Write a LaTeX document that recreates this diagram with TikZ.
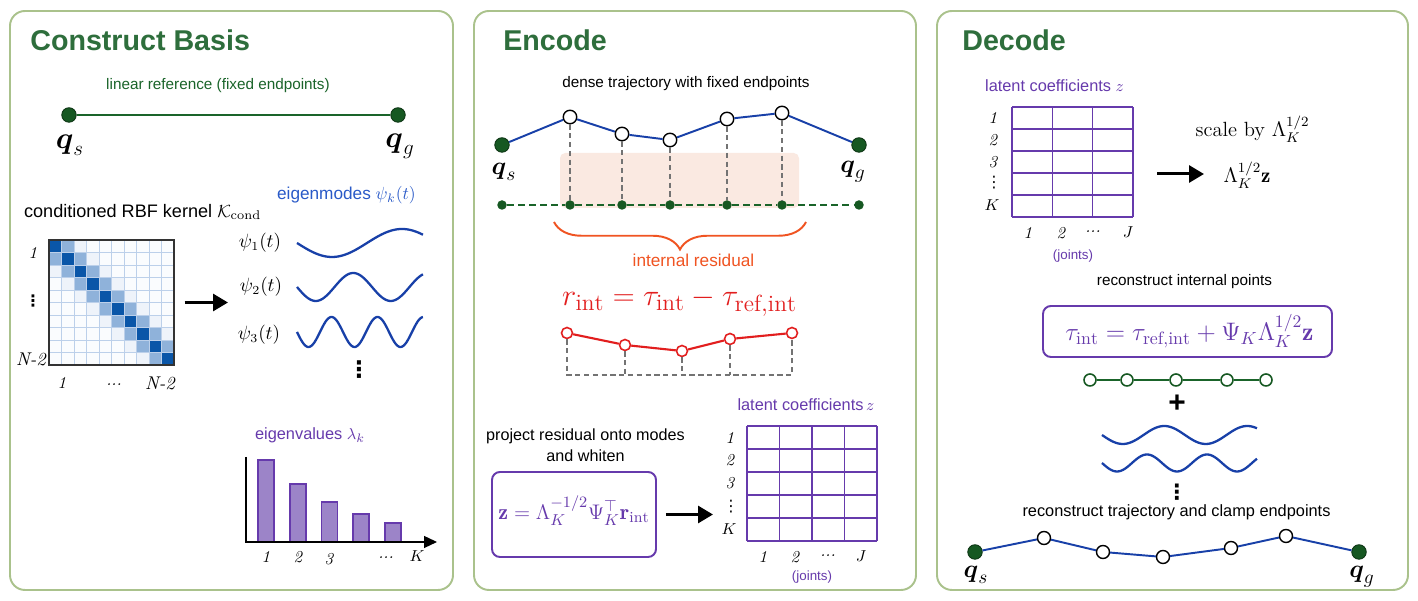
\documentclass[tikz,border=0pt]{standalone}
\usepackage{fontspec}
\usepackage{amsmath}
\setsansfont{Liberation Sans}
\newfontfamily\dotsfont{DejaVu Sans}
\usetikzlibrary{arrows.meta,decorations.pathreplacing}

\definecolor{panelframe}{RGB}{170,194,140}
\definecolor{titlegreen}{RGB}{46,110,60}
\definecolor{dotgreen}{RGB}{22,88,34}
\definecolor{refgreen}{RGB}{26,100,42}
\definecolor{trajblue}{RGB}{24,64,168}
\definecolor{modeblue}{RGB}{42,90,200}
\definecolor{latentpurple}{RGB}{102,58,172}
\definecolor{barpurple}{RGB}{156,132,200}
\definecolor{residred}{RGB}{226,30,30}
\definecolor{braceorange}{RGB}{240,84,34}
\definecolor{shadepeach}{RGB}{250,233,225}
\definecolor{kerneldark}{RGB}{10,86,168}
\definecolor{kernelmid}{RGB}{143,178,218}
\definecolor{kernellight}{RGB}{238,243,250}
\definecolor{kernelpale}{RGB}{250,252,254}
\definecolor{kernelgrid}{RGB}{188,208,234}

\begin{document}
\begin{tikzpicture}[
    panel/.style={draw=panelframe, line width=1.1pt, rounded corners=8.5pt, fill=white},
    panel title/.style={anchor=west, inner sep=0pt, text=titlegreen,
        font=\sffamily\bfseries\fontsize{16.3}{19}\selectfont},
    caption/.style={inner sep=1pt, font=\sffamily\fontsize{8.7}{10.5}\selectfont},
    end dot/.style={circle, fill=dotgreen, draw=dotgreen!60!black, minimum size=2.9mm,
        inner sep=0pt, line width=0.5pt},
    via point/.style={circle, fill=white, draw=black, minimum size=2.7mm, inner sep=0pt,
        line width=0.8pt},
    rail dot/.style={circle, fill=dotgreen, minimum size=1.9mm, inner sep=0pt},
    resid point/.style={circle, fill=white, draw=residred, minimum size=2.2mm, inner sep=0pt,
        line width=0.9pt},
    hollow point/.style={circle, fill=white, draw=dotgreen, minimum size=2.4mm, inner sep=0pt,
        line width=0.9pt},
    end label/.style={inner sep=1pt, font=\fontsize{15}{17}\selectfont},
    axis label/.style={inner sep=1pt, font=\itshape\fontsize{9.5}{11}\selectfont},
    row dots/.style={inner sep=0pt, font=\dotsfont\fontsize{9}{10}\selectfont},
    more dots/.style={inner sep=0pt, font=\dotsfont\bfseries\fontsize{13}{14}\selectfont},
    trajectory/.style={draw=trajblue, line width=1.1pt},
    guide/.style={draw=black!55, dash pattern=on 3pt off 2pt, line width=0.6pt},
    big arrow/.style={-{Triangle[length=3mm, width=3.4mm]}, line width=1.7pt},
    wave/.style={draw=trajblue, line width=1.3pt},
    latent line/.style={draw=latentpurple, line width=0.9pt},
    formula box/.style={draw=latentpurple, line width=1.1pt, rounded corners=4.5pt}
]
    \useasboundingbox (0,0) rectangle (28.36,12.02);

    % The three panels.
    \draw[panel] (0.20,0.22) rectangle (9.06,11.80);
    \draw[panel] (9.48,0.22) rectangle (18.32,11.80);
    \draw[panel] (18.74,0.22) rectangle (28.16,11.80);
    \node[panel title] (basistitle) at (0.60,11.22) {Construct Basis};
    \node[panel title] (encodetitle) at (10.06,11.22) {Encode};
    \node[panel title] (decodetitle) at (19.24,11.22) {Decode};

    % Construct basis: the linear reference.
    \node[caption, text=refgreen] (linref) at (4.36,10.30) {linear reference (fixed endpoints)};
    \node[end dot] (qsA) at (1.38,9.72) {};
    \node[end dot] (qgA) at (7.96,9.72) {};
    \draw[draw=refgreen, line width=1.5pt] (qsA) -- (qgA);
    \node[end label, font=\fontsize{17}{19}\selectfont] (qsAlab) at (1.40,9.12)
        {$\boldsymbol{q}_s$};
    \node[end label, font=\fontsize{17}{19}\selectfont] (qgAlab) at (8.00,9.10)
        {$\boldsymbol{q}_g$};

    % The conditioned kernel.
    \node[caption, anchor=west, font=\sffamily\fontsize{10.3}{12}\selectfont] (kernelcap)
        at (0.44,7.78) {conditioned RBF kernel $\mathcal{K}_{\mathrm{cond}}$};
    \foreach \i in {0,...,9} {
        \foreach \j in {0,...,9} {
            \pgfmathtruncatemacro{\gap}{abs(\i-\j)}
            \ifcase\gap \def\cellcol{kerneldark}\or \def\cellcol{kernelmid}\or
                \def\cellcol{kernellight}\else \def\cellcol{kernelpale}\fi
            \filldraw[fill=\cellcol, draw=kernelgrid, line width=0.5pt]
                (0.98+0.25*\j,7.22-0.25*\i) rectangle ++(0.25,-0.25);
        }
    }
    \node[draw=black!80, line width=0.7pt, minimum size=2.5cm, inner sep=0pt] (kernel)
        at (2.23,5.97) {};
    \node[axis label] (krow1) at (0.66,6.96) {1};
    \node[row dots, font=\dotsfont\bfseries\fontsize{9}{10}\selectfont] (krowdots)
        at (0.66,6.00) {⋮};
    \node[axis label, anchor=east, font=\itshape\fontsize{10.5}{12}\selectfont] (krowN)
        at (0.96,4.84) {N-2};
    \node[axis label] (kcol1) at (1.24,4.36) {1};
    \node[axis label] (kcoldots) at (2.28,4.32) {...};
    \node[axis label, font=\itshape\fontsize{10.5}{12}\selectfont] (kcolN) at (3.20,4.36) {N-2};

    % Eigenmodes.
    \coordinate (modein) at (4.56,5.97);
    \draw[big arrow] ([xshift=2mm]kernel.east) -- (modein);
    \node[caption, anchor=west, text=modeblue, font=\sffamily\fontsize{9.8}{12}\selectfont]
        (modecap) at (5.50,8.12) {eigenmodes $\psi_k(t)$};
    \node[inner sep=1pt, font=\fontsize{10.5}{12}\selectfont] (psi1) at (5.20,7.16) {$\psi_1(t)$};
    \node[inner sep=1pt, font=\fontsize{10.5}{12}\selectfont] (psi2) at (5.22,6.28) {$\psi_2(t)$};
    \node[inner sep=1pt, font=\fontsize{10.5}{12}\selectfont] (psi3) at (5.18,5.32) {$\psi_3(t)$};
    \draw[wave] plot[domain=0:2.52, samples=90, smooth] ({5.94+\x},{7.16-0.28*sin(360*\x/2.8)});
    \draw[wave] plot[domain=0:2.52, samples=90, smooth] ({5.94+\x},{6.28-0.28*sin(360*\x/1.5)});
    \draw[wave] plot[domain=0:2.52, samples=120, smooth] ({5.94+\x},{5.38-0.30*sin(360*\x/0.92)});
    \node[more dots] (modedots) at (7.18,4.62) {⋮};

    % Eigenvalue spectrum.
    \node[caption, anchor=west, text=latentpurple, font=\sffamily\fontsize{9.3}{11}\selectfont]
        (eigcap) at (5.06,3.32) {eigenvalues $\lambda_k$};
    \foreach \x/\h in {5.32/2.82, 5.96/2.34, 6.59/1.98, 7.22/1.74, 7.86/1.56}
        \filldraw[fill=barpurple, draw=latentpurple, line width=0.6pt]
            (\x-0.16,1.18) rectangle (\x+0.16,\h);
    \coordinate (axistop) at (4.92,2.88);
    \coordinate (axisend) at (8.74,1.18);
    \draw[line width=0.7pt, -{Triangle[length=2.6mm, width=2.4mm]}] (axistop) |- (axisend);
    \node[axis label] (bar1) at (5.32,0.88) {1};
    \node[axis label] (bar2) at (5.96,0.88) {2};
    \node[axis label] (bar3) at (6.58,0.84) {3};
    \node[axis label] (bardots) at (7.72,0.86) {...};
    \node[axis label] (barK) at (8.34,0.90) {$K$};

    % Encode: dense trajectory and its residual.
    \fill[shadepeach, rounded corners=3pt] (11.20,7.86) rectangle (15.98,8.96);
    \node[caption] (densecap) at (13.72,10.34) {dense trajectory with fixed endpoints};
    \node[end dot] (qsB) at (10.04,9.12) {};
    \node[via point] (e1) at (11.40,9.68) {};
    \node[via point] (e2) at (12.44,9.34) {};
    \node[via point] (e3) at (13.40,9.22) {};
    \node[via point] (e4) at (14.54,9.64) {};
    \node[via point] (e5) at (15.64,9.76) {};
    \node[end dot] (qgB) at (17.18,9.12) {};
    \draw[trajectory] (qsB) -- (e1) -- (e2) -- (e3) -- (e4) -- (e5) -- (qgB);
    \node[end label] (qsBlab) at (10.08,8.58) {$\boldsymbol{q}_s$};
    \node[end label] (qgBlab) at (17.06,8.58) {$\boldsymbol{q}_g$};

    \node[rail dot] (g0) at (10.04,7.92) {};
    \node[rail dot] (g1) at (11.40,7.92) {};
    \node[rail dot] (g2) at (12.44,7.92) {};
    \node[rail dot] (g3) at (13.40,7.92) {};
    \node[rail dot] (g4) at (14.54,7.92) {};
    \node[rail dot] (g5) at (15.64,7.92) {};
    \node[rail dot] (g6) at (17.18,7.92) {};
    \draw[draw=refgreen, line width=0.9pt, dash pattern=on 4pt off 2.3pt]
        (g0) -- (g1) -- (g2) -- (g3) -- (g4) -- (g5) -- (g6);
    \foreach \k in {1,...,5}
        \draw[guide] (e\k) -- (g\k);

    \coordinate (braceright) at (16.12,7.58);
    \coordinate (braceleft) at (11.08,7.58);
    \draw[draw=braceorange, line width=1.1pt, decorate, decoration={brace, amplitude=0.55cm}]
        (braceright) -- (braceleft);
    \node[caption, text=braceorange, font=\sffamily\fontsize{9.8}{12}\selectfont]
        (residcap) at (13.87,6.82) {internal residual};
    \node[inner sep=1pt, text=residred, font=\fontsize{19}{22}\selectfont] (residrule)
        at (13.59,5.98) {$r_{\mathrm{int}} = \tau_{\mathrm{int}} - \tau_{\mathrm{ref,int}}$};

    \node[resid point] (r1) at (11.34,5.36) {};
    \node[resid point] (r2) at (12.50,5.12) {};
    \node[resid point] (r3) at (13.64,5.00) {};
    \node[resid point] (r4) at (14.60,5.24) {};
    \node[resid point] (r5) at (15.84,5.36) {};
    \draw[draw=residred, line width=1.2pt] (r1) -- (r2) -- (r3) -- (r4) -- (r5);
    \coordinate (b1) at (11.34,4.52);
    \coordinate (b2) at (12.50,4.52);
    \coordinate (b3) at (13.64,4.52);
    \coordinate (b4) at (14.60,4.52);
    \coordinate (b5) at (15.84,4.52);
    \draw[guide] (r1) -- (b1) -- (b5) -- (r5);
    \foreach \k in {2,3,4}
        \draw[guide] (r\k) -- (b\k);

    % Encode: projection onto the modes.
    \node[caption, align=center, font=\sffamily\fontsize{9.2}{12.2}\selectfont] (projcap)
        at (11.71,3.11) {project residual onto modes\\and whiten};
    \node[formula box, minimum width=3.28cm, minimum height=1.70cm, inner sep=0pt] (projbox)
        at (11.48,1.73) {};
    \node[inner sep=0pt, text=latentpurple, font=\fontsize{12.5}{15}\selectfont] (projrule)
        at (11.48,1.80) {$\mathbf{z} = \Lambda_K^{-1/2}\Psi_K^{\top}\mathbf{r}_{\mathrm{int}}$};
    \coordinate (latentin) at (14.26,1.73);
    \draw[big arrow] ([xshift=1.8mm]projbox.east) -- (latentin);

    \node[caption, text=latentpurple, font=\sffamily\fontsize{9.3}{11}\selectfont] (latentcapB)
        at (16.12,3.92) {latent coefficients\,$z$};
    \foreach \c in {0,...,4}
        \draw[latent line] (14.94+0.65*\c,1.20) -- ++(0,2.30);
    \foreach \r in {0,...,5}
        \draw[latent line] (14.94,1.20+0.46*\r) -- ++(2.60,0);
    \node[axis label] (zrow1) at (14.60,3.27) {1};
    \node[axis label] (zrow2) at (14.60,2.81) {2};
    \node[axis label] (zrow3) at (14.60,2.35) {3};
    \node[row dots] (zrowdots) at (14.62,1.89) {⋮};
    \node[axis label] (zrowK) at (14.58,1.43) {$K$};
    \node[axis label] (zcol1) at (15.26,0.88) {1};
    \node[axis label] (zcol2) at (15.90,0.88) {2};
    \node[axis label] (zcoldots) at (16.56,0.90) {...};
    \node[axis label] (zcolJ) at (17.22,0.90) {$J$};
    \node[caption, text=latentpurple, font=\sffamily\fontsize{7.6}{9}\selectfont] (jointsB)
        at (16.24,0.48) {(joints)};

    % Decode: latent grid and scaling.
    \node[caption, text=latentpurple, font=\sffamily\fontsize{9.3}{11}\selectfont] (latentcapC)
        at (21.09,10.30) {latent coefficients $z$};
    \foreach \c in {0,...,3}
        \draw[latent line] (20.24+0.8067*\c,7.68) -- ++(0,2.20);
    \foreach \r in {0,...,5}
        \draw[latent line] (20.24,7.68+0.44*\r) -- ++(2.42,0);
    \node[axis label] (crow1) at (19.86,9.66) {1};
    \node[axis label] (crow2) at (19.86,9.22) {2};
    \node[axis label] (crow3) at (19.86,8.78) {3};
    \node[row dots] (crowdots) at (19.88,8.36) {⋮};
    \node[axis label] (crowK) at (19.84,7.92) {$K$};
    \node[axis label] (ccol1) at (20.56,7.36) {1};
    \node[axis label] (ccol2) at (21.22,7.36) {2};
    \node[axis label] (ccoldots) at (21.86,7.38) {...};
    \node[axis label] (ccolJ) at (22.56,7.38) {$J$};
    \node[caption, text=latentpurple, font=\sffamily\fontsize{7.6}{9}\selectfont] (jointsC)
        at (21.46,6.90) {(joints)};

    \coordinate (scalefrom) at (23.14,8.54);
    \coordinate (scaleto) at (24.08,8.54);
    \draw[big arrow] (scalefrom) -- (scaleto);
    \node[inner sep=1pt, font=\fontsize{11.7}{14}\selectfont] (scalecap)
        at (25.05,9.44) {scale by $\Lambda_K^{1/2}$};
    \node[inner sep=1pt, font=\fontsize{12}{14}\selectfont] (scaled)
        at (24.94,8.52) {$\Lambda_K^{1/2}\mathbf{z}$};

    % Decode: reconstruction.
    \node[caption] (recapint) at (23.69,6.38) {reconstruct internal points};
    \node[formula box, minimum width=5.78cm, minimum height=1.02cm, inner sep=0pt] (recbox)
        at (23.75,5.39) {};
    \node[inner sep=0pt, text=latentpurple, font=\fontsize{14.5}{17}\selectfont] (recrule)
        at (23.79,5.40)
        {$\tau_{\mathrm{int}} = \tau_{\mathrm{ref,int}} + \Psi_K\Lambda_K^{1/2}\mathbf{z}$};

    \node[hollow point] (h1) at (21.80,4.42) {};
    \node[hollow point] (h2) at (22.54,4.42) {};
    \node[hollow point] (h3) at (23.52,4.42) {};
    \node[hollow point] (h4) at (24.54,4.42) {};
    \node[hollow point] (h5) at (25.32,4.42) {};
    \draw[draw=refgreen, line width=1pt] (h1) -- (h2) -- (h3) -- (h4) -- (h5);
    \node[inner sep=0pt, font=\sffamily\bfseries\fontsize{17}{19}\selectfont] (plus)
        at (23.54,3.94) {+};
    \draw[wave] plot[domain=0:3.10, samples=90, smooth] ({22.04+\x},{3.32-0.18*sin(360*\x/1.66)});
    \draw[wave] plot[domain=0:3.10, samples=120, smooth] ({22.04+\x},{2.76-0.17*sin(360*\x/1.20)});
    \node[more dots, font=\dotsfont\bfseries\fontsize{12}{13}\selectfont] (wavedots)
        at (23.54,2.17) {⋮};
    \node[caption, font=\sffamily\fontsize{9.3}{11}\selectfont] (recaptraj)
        at (23.53,1.78) {reconstruct trajectory and clamp endpoints};

    \node[end dot] (qsC) at (19.50,0.98) {};
    \node[via point, minimum size=2.6mm] (d1) at (20.88,1.26) {};
    \node[via point, minimum size=2.6mm] (d2) at (22.06,0.98) {};
    \node[via point, minimum size=2.6mm] (d3) at (23.26,0.88) {};
    \node[via point, minimum size=2.6mm] (d4) at (24.62,1.06) {};
    \node[via point, minimum size=2.6mm] (d5) at (25.72,1.30) {};
    \node[end dot] (qgC) at (27.18,0.98) {};
    \draw[trajectory] (qsC) -- (d1) -- (d2) -- (d3) -- (d4) -- (d5) -- (qgC);
    \node[end label] (qsClab) at (19.52,0.52) {$\boldsymbol{q}_s$};
    \node[end label] (qgClab) at (27.24,0.48) {$\boldsymbol{q}_g$};
\end{tikzpicture}
\end{document}
